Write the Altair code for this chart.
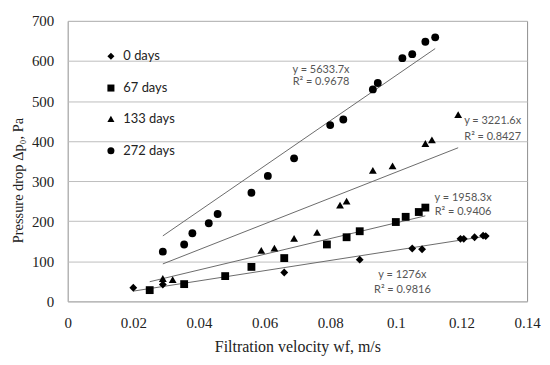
import altair as alt
import pandas as pd

# ---- data ----
SERIES = ["0 days", "67 days", "133 days", "272 days"]

V0 = [0.020, 0.029, 0.066, 0.089, 0.105, 0.108, 0.1197, 0.1207, 0.124, 0.1266, 0.1274]
P0 = [34, 42, 72, 104, 132, 130, 156, 156, 160, 164, 163]

V67 = [0.025, 0.0355, 0.048, 0.056, 0.066, 0.079, 0.085, 0.089, 0.100, 0.103, 0.107, 0.109]
P67 = [28, 43, 63, 86, 108, 142, 160, 175, 198, 211, 223, 234]

V133 = [0.029, 0.032, 0.059, 0.063, 0.069, 0.076, 0.083, 0.085, 0.093, 0.099, 0.109, 0.111, 0.119]
P133 = [57, 54, 127, 133, 157, 172, 240, 250, 327, 338, 394, 403, 466]

V272 = [0.029, 0.0355, 0.038, 0.043, 0.0457, 0.056, 0.061, 0.069, 0.080, 0.084, 0.093, 0.0945, 0.102, 0.105, 0.109, 0.112]
P272 = [124, 142, 170, 195, 218, 271, 313, 357, 440, 454, 529, 545, 607, 617, 648, 659]

# linear trendlines through the origin (Excel fit)
SLOPES = [1276.0, 1958.3, 3221.6, 5633.7]
EQ_TEXT = ["y = 1276x", "y = 1958.3x", "y = 3221.6x", "y = 5633.7x"]
R2_TEXT = ["R² = 0.9816", "R² = 0.9406", "R² = 0.8427", "R² = 0.9678"]
EQ_X = [0.102, 0.1205, 0.1295, 0.0772]
EQ_Y = [66, 257, 451, 577]
R2_Y = [29, 223, 411, 548]

X_TICKS = [0, 0.02, 0.04, 0.06, 0.08, 0.1, 0.12, 0.14]
Y_TICKS = [0, 100, 200, 300, 400, 500, 600, 700]

# ---- tables ----
vals = [(V0, P0), (V67, P67), (V133, P133), (V272, P272)]
rows = []
for s, (vs, ps) in zip(SERIES, vals):
    for v, p in zip(vs, ps):
        rows.append({"series": s, "v": v, "p": p})
pts = pd.DataFrame(rows)

trows = []
for s, (vs, _), k in zip(SERIES, vals, SLOPES):
    trows.append({"series": s, "v": min(vs), "k": k})
    trows.append({"series": s, "v": max(vs), "k": k})
trend = pd.DataFrame(trows)

ann = pd.DataFrame({
    "x": EQ_X + EQ_X,
    "y": EQ_Y + R2_Y,
    "t": EQ_TEXT + R2_TEXT,
})

SERIF = "Liberation Serif"
SANS = "Lato"

xs = alt.Scale(domain=[0, 0.14], nice=False)
ys = alt.Scale(domain=[0, 700], nice=False)

xaxis = alt.Axis(values=X_TICKS, format="~g", grid=False, ticks=False, domain=False,
                 labelFlush=False,
                 labelFont=SERIF, labelFontSize=15, labelColor="#222222", labelPadding=14,
                 title="Filtration velocity wf, m/s", titleFont=SERIF, titleFontSize=16,
                 titleFontWeight="normal", titleColor="#222222", titlePadding=8)
yaxis = alt.Axis(values=Y_TICKS, grid=True, gridColor="#bdbdbd", ticks=False, domain=False,
                 labelFont=SERIF, labelFontSize=15, labelColor="#222222", labelPadding=14,
                 title="Pressure drop Δp₀, Pa", titleFont=SERIF, titleFontSize=14.5,
                 titleFontWeight="normal", titleColor="#222222", titlePadding=6,
                 titleY=160)

shape_scale = alt.Scale(domain=SERIES, range=["diamond", "square", "triangle-up", "circle"])

points = alt.Chart(pts).mark_point(filled=True, color="black", opacity=1, size=62).encode(
    x=alt.X("v:Q", scale=xs, axis=xaxis),
    y=alt.Y("p:Q", scale=ys, axis=yaxis),
    shape=alt.Shape("series:N", scale=shape_scale, sort=SERIES,
                    legend=alt.Legend(title=None, orient="none", legendX=37, legendY=29,
                                      labelFont=SANS, labelFontSize=13, labelColor="#222222",
                                      symbolFillColor="black", symbolStrokeColor="black",
                                      symbolSize=50, rowPadding=17, labelOffset=6, padding=0)),
)

lines = alt.Chart(trend).transform_calculate(y="datum.k * datum.v").mark_line(
    color="#6b6b6b", strokeWidth=1).encode(
    x=alt.X("v:Q", scale=xs),
    y=alt.Y("y:Q", scale=ys),
    detail="series:N",
)

texts = alt.Chart(ann).mark_text(font=SANS, fontSize=11, color="#555555").encode(
    x=alt.X("x:Q", scale=xs),
    y=alt.Y("y:Q", scale=ys),
    text="t:N",
)

chart = alt.layer(lines, points, texts).properties(
    width=462, height=282,
    padding={"left": 60, "top": 12, "right": 15, "bottom": 60},
    autosize="none",
).configure(background="white").configure_view(stroke="#8f8f8f", strokeWidth=1)

chart.save("out.html", embed_options={"renderer": "svg", "actions": False})
